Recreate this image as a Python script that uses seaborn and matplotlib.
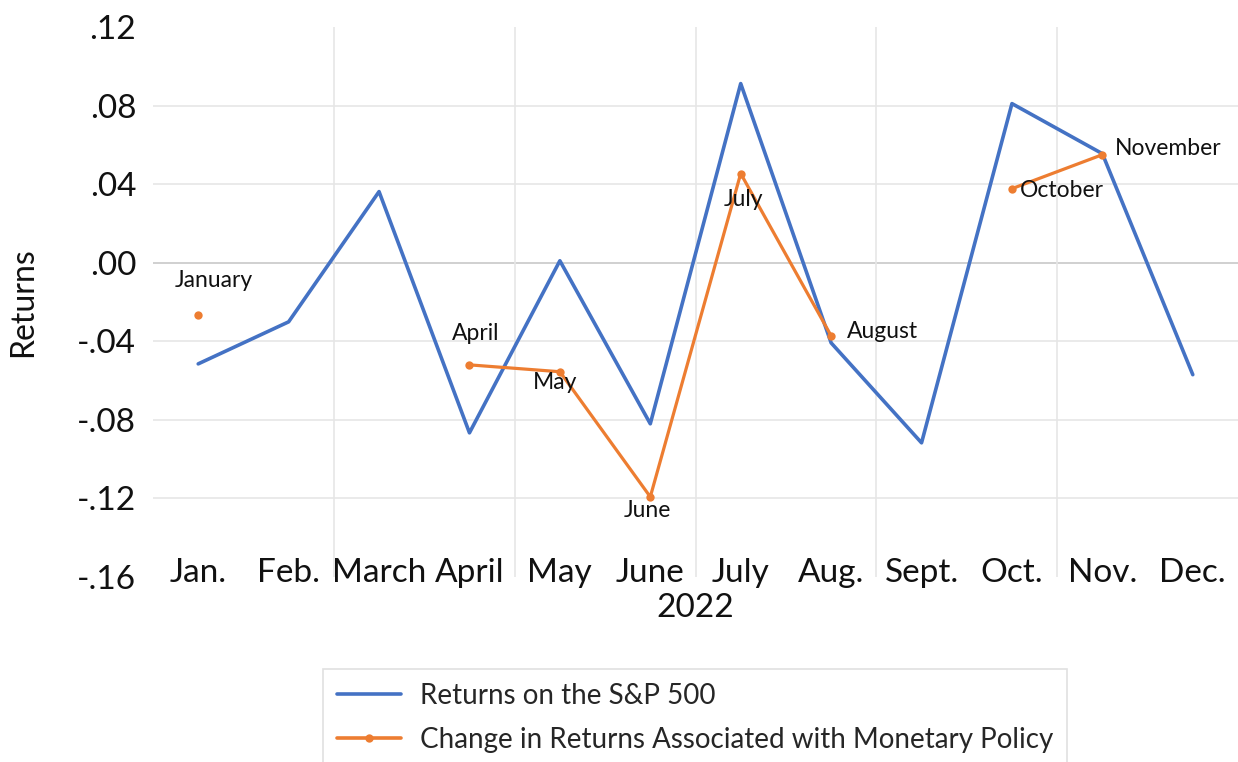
import numpy as np
import pandas as pd
import seaborn as sns
import matplotlib.pyplot as plt
from matplotlib.lines import Line2D

# Monthly values (2022)
months = ['Jan.', 'Feb.', 'March', 'April', 'May', 'June',
          'July', 'Aug.', 'Sept.', 'Oct.', 'Nov.', 'Dec.']
sp500_returns = [-0.0515, -0.0301, 0.0362, -0.0866, 0.0010, -0.0820,
                 0.0912, -0.0408, -0.0917, 0.0810, 0.0555, -0.0570]
policy_change = [-0.0265, np.nan, np.nan, -0.0520, -0.0555, -0.1192,
                 0.0454, -0.0372, np.nan, 0.0377, 0.0550, np.nan]
point_labels = ['January', '', '', 'April', 'May', 'June',
                'July', 'August', '', 'October', 'November', '']
y_ticks = [-0.16, -0.12, -0.08, -0.04, 0.00, 0.04, 0.08, 0.12]

# where each data label sits relative to its point (pixels, alignment)
label_place = {
    'January': (16, 34, 'center'),
    'April': (6, 31, 'center'),
    'May': (-5, -11, 'center'),
    'June': (-3, -14, 'center'),
    'July': (3, -26, 'center'),
    'August': (16, 4, 'left'),
    'October': (8, -2, 'left'),
    'November': (13, 6, 'left'),
}

blue = '#4472C4'
orange = '#ED7D31'

sns.set_style('white')
plt.rcParams['font.family'] = ['Lato', 'DejaVu Sans']

pos = np.arange(len(months))
sp_df = pd.DataFrame({'pos': pos, 'ret': sp500_returns})
mp_df = pd.DataFrame({'pos': pos, 'change': policy_change, 'label': point_labels})
# break the orange line wherever a month is missing
mp_df['seg'] = mp_df['change'].isna().cumsum()
mp_df = mp_df.dropna(subset=['change'])

fig = plt.figure(figsize=(12.38, 7.62), dpi=100)
ax = fig.add_axes([153 / 1238, 1 - 577 / 762, 1085 / 1238, 550 / 762])

# Gridlines: inner horizontal ticks plus every-other category boundary
for v in y_ticks[1:-1]:
    ax.axhline(v, color='#C8C8C8' if v == 0 else '#E6E6E6', lw=1.2, zorder=0)
ax.set_xticks(np.arange(1.5, 11, 2), minor=True)
ax.grid(which='minor', axis='x', color='#E6E6E6', lw=1.2)
ax.set_axisbelow(True)

sns.lineplot(data=sp_df, x='pos', y='ret', color=blue, linewidth=2.6, ax=ax)
sns.lineplot(data=mp_df, x='pos', y='change', units='seg', estimator=None,
             color=orange, linewidth=2.3, marker='o', markersize=6,
             markeredgewidth=0, ax=ax)

for _, row in mp_df.iterrows():
    dx, dy, ha = label_place[row['label']]
    ax.annotate(row['label'], (row['pos'], row['change']), xytext=(dx, dy),
                textcoords='offset pixels', ha=ha, va='center', fontsize=16.5,
                color='#111111')

ax.set_xlim(-0.5, 11.5)
ax.set_ylim(-0.16, 0.12)
ax.set_xticks(pos)
ax.set_xticklabels(months)
ax.set_yticks(y_ticks)
ax.set_yticklabels([f'{v:.2f}'.replace('0.', '.') for v in y_ticks])
ax.tick_params(axis='both', which='both', length=0, labelsize=24, colors='#111111')
ax.tick_params(axis='x', pad=-14)
ax.tick_params(axis='y', pad=12)
ax.set_xlabel('2022', fontsize=24, color='#111111', labelpad=4)
ax.set_ylabel('Returns', fontsize=23, color='#111111', labelpad=28)
sns.despine(ax=ax, left=True, bottom=True)

handles = [Line2D([], [], color=blue, lw=2.6),
           Line2D([], [], color=orange, lw=2.6, marker='o', markersize=6,
                  markeredgewidth=0)]
leg = fig.legend(handles, ['Returns on the S&P 500',
                           'Change in Returns Associated with Monetary Policy'],
                 loc='upper center', bbox_to_anchor=(695 / 1238, 1 - 655 / 762),
                 fontsize=20, frameon=True, fancybox=False, handlelength=2.3,
                 borderpad=0.5, labelspacing=0.65, handletextpad=0.7)
leg.get_frame().set_edgecolor('#D9D9D9')
leg.get_frame().set_linewidth(1.2)

fig.savefig('out.png', dpi=100)
